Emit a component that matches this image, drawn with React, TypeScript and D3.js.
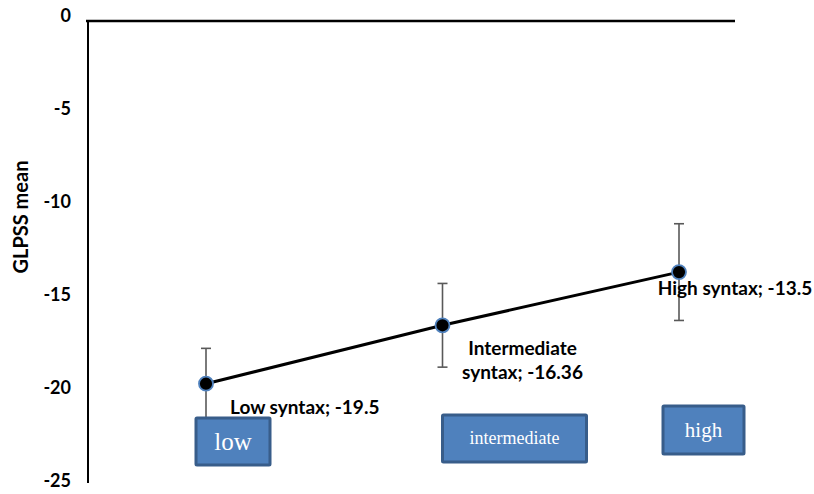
import React from "react";
import * as d3 from "d3";

const categories = ["low", "intermediate", "high"];
const means = [-19.5, -16.36, -13.5];
const errors = [1.9, 2.25, 2.6];
const pointLabels = [["Low syntax; -19.5"], ["Intermediate", "syntax; -16.36"], ["High syntax; -13.5"]];
const yTicks = [0, -5, -10, -15, -20, -25];
const yTitle = "GLPSS mean";

const W = 814;
const H = 494;
const sans = "Lato, 'Open Sans', sans-serif";

export default function App() {
  const y = d3.scaleLinear().domain([0, -25]).range([21, 486]);
  const x = d3.scalePoint<string>().domain(categories).range([206, 679]);
  const line = d3
    .line<number>()
    .x((_, i) => x(categories[i])!)
    .y((d) => y(d));

  const boxes = [
    { dx: -10, w: 74, top: 418, h: 47, fs: 25 },
    { dx: 0, w: 144, top: 415, h: 47, fs: 18 },
    { dx: -16, w: 81, top: 406, h: 48, fs: 21 },
  ];
  const labelPos = [
    { dx: 24, dy: 30, anchor: "start" },
    { dx: 80, dy: 30, anchor: "middle" },
    { dx: 56, dy: 23, anchor: "middle" },
  ];

  return (
    <svg width={W} height={H} style={{ position: "absolute", left: 0, top: 0 }}>
      <rect width={W} height={H} fill="#fff" />
      <line x1={88} x2={88} y1={y(0)} y2={483} stroke="#000" strokeWidth={2} />
      <line x1={86} x2={735} y1={y(0)} y2={y(0)} stroke="#000" strokeWidth={2.5} />
      {yTicks.map((t) => (
        <text key={t} x={71} y={y(t)} dy="0.05em" textAnchor="end" fontFamily={sans} fontWeight="bold" fontSize={18}>
          {t}
        </text>
      ))}
      <text
        transform={`translate(28,${217}) rotate(-90)`}
        textAnchor="middle"
        fontFamily={sans}
        fontWeight="bold"
        fontSize={20}
      >
        {yTitle}
      </text>
      {means.map((m, i) => {
        const cx = x(categories[i])!;
        return (
          <g key={"e" + i} stroke="#595959" strokeWidth={1.6}>
            <line x1={cx} x2={cx} y1={y(m + errors[i])} y2={y(m - errors[i])} />
            <line x1={cx - 5} x2={cx + 5} y1={y(m + errors[i])} y2={y(m + errors[i])} />
            <line x1={cx - 5} x2={cx + 5} y1={y(m - errors[i])} y2={y(m - errors[i])} />
          </g>
        );
      })}
      <path d={line(means)!} fill="none" stroke="#000" strokeWidth={3} />
      {means.map((m, i) => (
        <circle key={"p" + i} cx={x(categories[i])!} cy={y(m)} r={7} fill="#000" stroke="#4f81bd" strokeWidth={1.8} />
      ))}
      {categories.map((c, i) => {
        const b = boxes[i];
        const bx = x(c)! + b.dx;
        return (
          <g key={"b" + i}>
            <rect x={bx} y={b.top} width={b.w} height={b.h} fill="#4f81bd" stroke="#385d8a" strokeWidth={3} rx={1} />
            <text
              x={bx + b.w / 2}
              y={b.top + b.h / 2}
              dy="0.33em"
              textAnchor="middle"
              fill="#fff"
              fontFamily="'Liberation Serif', 'Times New Roman', serif"
              fontSize={b.fs}
            >
              {c}
            </text>
          </g>
        );
      })}
      {means.map((m, i) => {
        const p = labelPos[i];
        const lx = x(categories[i])! + p.dx;
        const ly = y(m) + p.dy;
        return (
          <text key={"l" + i} x={lx} y={ly} textAnchor={p.anchor as any} fontFamily={sans} fontWeight="bold" fontSize={19}>
            {pointLabels[i].map((s, j) => (
              <tspan key={j} x={lx} dy={j === 0 ? 0 : 24}>
                {s}
              </tspan>
            ))}
          </text>
        );
      })}
    </svg>
  );
}
